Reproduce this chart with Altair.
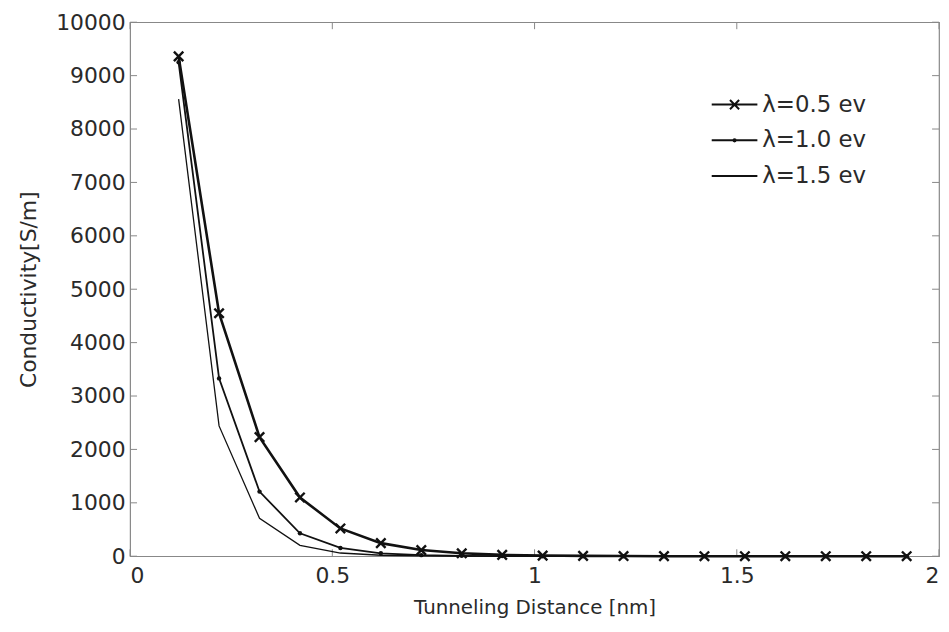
import altair as alt
import pandas as pd

x_vals = [0.12, 0.22, 0.32, 0.42, 0.52, 0.62, 0.72, 0.82, 0.92, 1.02,
          1.12, 1.22, 1.32, 1.42, 1.52, 1.62, 1.72, 1.82, 1.92]
cond_05 = [9360, 4550, 2230, 1100, 520, 245, 115, 55, 25, 12, 6, 3, 1, 0, 0, 0, 0, 0, 0]
cond_10 = [9250, 3330, 1210, 430, 155, 55, 20, 7, 2, 1, 0, 0, 0, 0, 0, 0, 0, 0, 0]
cond_15 = [8560, 2440, 710, 205, 60, 18, 5, 1, 0, 0, 0, 0, 0, 0, 0, 0, 0, 0, 0]
series = ["λ=0.5 ev", "λ=1.0 ev", "λ=1.5 ev"]
x_ticks = [0, 0.5, 1, 1.5, 2]
y_ticks = [0, 1000, 2000, 3000, 4000, 5000, 6000, 7000, 8000, 9000, 10000]

rows = []
for name, vals in zip(series, [cond_05, cond_10, cond_15]):
    for xv, yv in zip(x_vals, vals):
        rows.append({"x": xv, "y": yv, "series": name})
df = pd.DataFrame(rows)

xs = alt.Scale(domain=[0, 2], nice=False, zero=False)
ys = alt.Scale(domain=[0, 10000], nice=False)
FONT = "DejaVu Sans"
INK = "#111111"
TXT = "#2a2a2a"

xenc = alt.X("x:Q", scale=xs, title="Tunneling Distance [nm]",
             axis=alt.Axis(values=x_ticks, labelExpr="'' + datum.value", grid=False,
                           domain=False, ticks=False, labelFontSize=22, labelPadding=9,
                           titleFontSize=20, titleFontWeight="normal", titlePadding=12,
                           labelColor=TXT, titleColor=TXT, labelFont=FONT, titleFont=FONT))
yenc = alt.Y("y:Q", scale=ys, title="Conductivity[S/m]",
             axis=alt.Axis(values=y_ticks, format="d", grid=False, domain=False, ticks=False,
                           labelFontSize=22, labelPadding=5, titleFontSize=22,
                           titleFontWeight="normal", titlePadding=15,
                           labelColor=TXT, titleColor=TXT, labelFont=FONT, titleFont=FONT))

base = alt.Chart(df)

def line_layer(name, sw):
    return base.transform_filter(alt.datum.series == name).mark_line(
        color=INK, strokeWidth=sw).encode(x=xenc, y=yenc)

l05 = line_layer(series[0], 2.6)
l10 = line_layer(series[1], 1.8)
l15 = line_layer(series[2], 1.3)

xmark = base.transform_filter(alt.datum.series == series[0]).mark_point(
    shape="M-1,-1L1,1M-1,1L1,-1", filled=False, color=INK, strokeWidth=2.4, size=90, opacity=1
).encode(x="x:Q", y="y:Q")
dmark = base.transform_filter(alt.datum.series == series[1]).mark_circle(
    color=INK, size=20, opacity=1).encode(x="x:Q", y="y:Q")

paths = [
    "M-1,0H1M-0.2,-0.2L0.2,0.2M-0.2,0.2L0.2,-0.2",
    "M-1,0H1M-0.05,0A0.05,0.05 0 1,0 0.05,0A0.05,0.05 0 1,0 -0.05,0Z",
    "M-1,0H1",
]
legend_layer = base.transform_filter("datum.x < 0").mark_point(
    filled=False, color=INK).encode(
    x="x:Q", y="y:Q",
    shape=alt.Shape("series:N", scale=alt.Scale(domain=series, range=paths),
                    legend=alt.Legend(title=None, orient="none", legendX=585, legendY=59,
                                      symbolSize=2116, symbolStrokeWidth=2.0,
                                      symbolStrokeColor=INK, symbolOpacity=1,
                                      labelFontSize=23, labelFont=FONT, labelColor=TXT,
                                      rowPadding=-16, labelOffset=4, padding=0)),
)

tick_df = pd.DataFrame({"yt": y_ticks})
xtick_df = pd.DataFrame({"xt": x_ticks})
TC = "#888888"
yt_left = alt.Chart(tick_df).mark_rule(color=TC, strokeWidth=1).encode(
    y=alt.Y("yt:Q", scale=ys), x=alt.value(0), x2=alt.value(7))
yt_right = alt.Chart(tick_df).mark_rule(color=TC, strokeWidth=1).encode(
    y=alt.Y("yt:Q", scale=ys), x=alt.value(808), x2=alt.value(815))
xt_bot = alt.Chart(xtick_df).mark_rule(color=TC, strokeWidth=1).encode(
    x=alt.X("xt:Q", scale=xs), y=alt.value(531), y2=alt.value(538))
xt_top = alt.Chart(xtick_df).mark_rule(color=TC, strokeWidth=1).encode(
    x=alt.X("xt:Q", scale=xs), y=alt.value(0), y2=alt.value(7))

chart = alt.layer(
    yt_left, yt_right, xt_bot, xt_top, l15, l10, l05, dmark, xmark, legend_layer
).properties(
    width=815, height=538,
    autosize=alt.AutoSizeParams(type="none"),
    padding={"left": 123, "top": 12, "right": 2, "bottom": 72},
    background="white",
).configure_view(stroke="#888888", strokeWidth=1.2)

chart.save("out.html", embed_options={"renderer": "svg", "actions": False})
